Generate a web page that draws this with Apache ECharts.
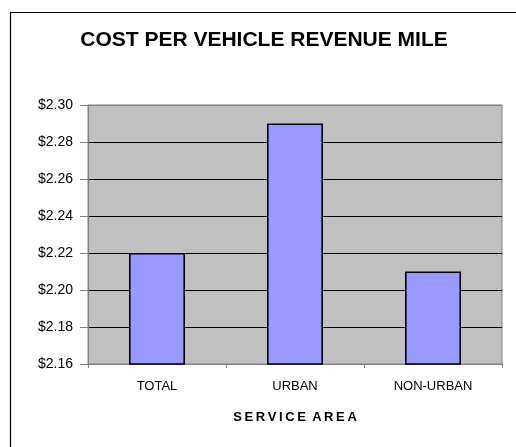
<!DOCTYPE html>
<html>
<head>
<meta charset="utf-8">
<script src="https://cdn.jsdelivr.net/npm/echarts@6/dist/echarts.min.js"></script>
<style>html,body{margin:0;padding:0;background:#fff;}#c{width:516px;height:447px;}</style>
</head>
<body>
<div id="c"></div>
<script>
var categories = ['TOTAL', 'URBAN', 'NON-URBAN'];
var costValues = [2.22, 2.29, 2.21];
var yTicks = { min: 2.16, max: 2.30, interval: 0.02 };
var titleText = 'COST PER VEHICLE REVENUE MILE';
var xAxisTitle = 'S\u2009E\u2009R\u2009V\u2009I\u2009C\u2009E\u2009 A\u2009R\u2009E\u2009A';

var chart = echarts.init(document.getElementById('c'), null, { renderer: 'canvas' });
var font = '"Liberation Sans", Arial, sans-serif';
chart.setOption({
  animation: false,
  backgroundColor: '#ffffff',
  textStyle: { fontFamily: font },
  title: {
    text: titleText,
    left: 259, top: 25, textAlign: 'center',
    textStyle: { fontFamily: font, fontSize: 21, fontWeight: 'bold', color: '#000' }
  },
  graphic: [{
    type: 'rect', left: 8, top: 10, z: 100,
    shape: { width: 600, height: 500 },
    style: { fill: 'none', stroke: '#000', lineWidth: 1.2 }
  }],
  grid: {
    left: 88, top: 105, width: 414, height: 259,
    show: true, backgroundColor: '#C0C0C0', borderColor: '#808080', borderWidth: 1
  },
  xAxis: {
    type: 'category',
    data: categories,
    name: xAxisTitle,
    nameLocation: 'middle',
    nameGap: 47,
    nameTextStyle: { fontFamily: font, fontSize: 13, fontWeight: 'bold', color: '#000' },
    axisLine: { lineStyle: { color: '#808080', width: 1 } },
    axisTick: { show: true, length: 4, inside: false, lineStyle: { color: '#808080' } },
    axisLabel: { fontFamily: font, fontSize: 13, color: '#000', margin: 16 },
    splitLine: { show: false }
  },
  yAxis: {
    type: 'value',
    min: yTicks.min, max: yTicks.max, interval: yTicks.interval,
    axisLine: { show: true, lineStyle: { color: '#808080', width: 1 } },
    axisTick: { show: true, length: 8, lineStyle: { color: '#808080' } },
    axisLabel: {
      fontFamily: font, fontSize: 14, color: '#000', margin: 15,
      formatter: function (v) { return '$' + v.toFixed(2); }
    },
    splitLine: {
      show: true,
      lineStyle: { color: ['#000', '#000', '#000', '#000', '#000', '#000', '#000', '#808080'], width: 1 }
    }
  },
  series: [{
    type: 'bar',
    data: costValues,
    barWidth: 56,
    itemStyle: { color: '#9999FF', borderColor: '#000', borderWidth: 1.6 }
  }]
});
</script>
</body>
</html>
